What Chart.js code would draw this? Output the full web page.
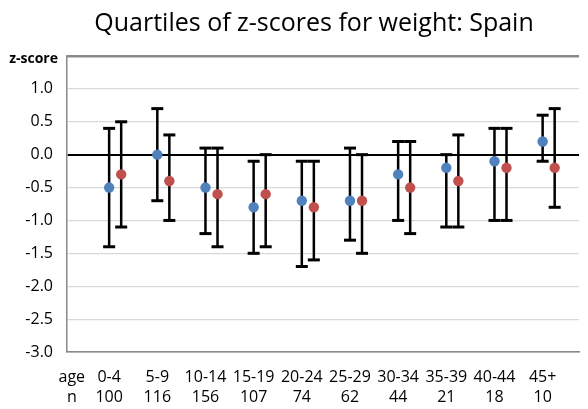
<!DOCTYPE html>
<html><head><meta charset="utf-8">
<script src="https://cdn.jsdelivr.net/npm/chart.js@4/dist/chart.umd.min.js"></script>
<style>html,body{margin:0;padding:0;background:#fff}#wrap{width:588px;height:409px}</style>
</head><body><div id="wrap"><canvas id="c" width="588" height="409"></canvas></div>
<script>
const TITLE = 'Quartiles of z-scores for weight: Spain';
const Y_LABEL = 'z-score';
const AGE_LABEL = 'age';
const N_LABEL = 'n';
const AGE_GROUPS = ['0-4','5-9','10-14','15-19','20-24','25-29','30-34','35-39','40-44','45+'];
const N_COUNTS = ['100','116','156','107','74','62','44','21','18','10'];
const BLUE_MEDIAN = [-0.5, 0.0, -0.5, -0.8, -0.7, -0.7, -0.3, -0.2, -0.1, 0.2];
const BLUE_Q1 = [-1.4, -0.7, -1.2, -1.5, -1.7, -1.3, -1.0, -1.1, -1.0, -0.1];
const BLUE_Q3 = [0.4, 0.7, 0.1, -0.1, -0.1, 0.1, 0.2, 0.0, 0.4, 0.6];
const RED_MEDIAN = [-0.3, -0.4, -0.6, -0.6, -0.8, -0.7, -0.5, -0.4, -0.2, -0.2];
const RED_Q1 = [-1.1, -1.0, -1.4, -1.4, -1.6, -1.5, -1.2, -1.1, -1.0, -0.8];
const RED_Q3 = [0.5, 0.3, 0.1, 0.0, -0.1, 0.0, 0.2, 0.3, 0.4, 0.7];
const Y_TICKS = [-3.0, -2.5, -2.0, -1.5, -1.0, -0.5, 0.0, 0.5, 1.0, 1.5];

const FONT = '"Open Sans", "DejaVu Sans", sans-serif';
const BLUE = '#4F81BD';
const RED = '#C0504D';
const OFF = 0.125;

function medianData(med, shift) {
  return med.map((v, i) => ({ x: i + 1 + shift, y: v }));
}
function whiskerData(lo, hi, shift) {
  const out = [];
  lo.forEach((v, i) => {
    out.push({ x: i + 1 + shift, y: hi[i] });
    out.push({ x: i + 1 + shift, y: v });
    out.push({ x: i + 1 + shift, y: null });
  });
  return out;
}
function whiskerSet(lo, hi, shift) {
  return {
    type: 'line', data: whiskerData(lo, hi, shift), showLine: true, spanGaps: false,
    borderColor: '#000', borderWidth: 2.5, pointStyle: 'line', pointRadius: 6,
    pointBorderColor: '#000', pointBorderWidth: 3, pointHoverRadius: 6, order: 1
  };
}
function medianSet(med, shift, color) {
  return {
    type: 'scatter', data: medianData(med, shift), pointRadius: 5.2, pointHoverRadius: 5.2,
    backgroundColor: color, borderColor: color, pointBorderWidth: 0, order: 0
  };
}

const textPlugin = {
  id: 'ctext',
  afterDraw(chart) {
    const ctx = chart.ctx;
    const a = chart.chartArea;
    ctx.save();
    ctx.fillStyle = '#000';
    ctx.font = '25px ' + FONT;
    ctx.textAlign = 'center';
    ctx.textBaseline = 'middle';
    ctx.fillText(TITLE, 314, 24);
    ctx.font = 'bold 14px ' + FONT;
    ctx.textAlign = 'right';
    ctx.fillText(Y_LABEL, a.left - 9, a.top + 3);
    ctx.strokeStyle = '#898989';
    ctx.lineWidth = 1.5;
    ctx.beginPath();
    ctx.moveTo(a.left, a.top + 0.75);
    ctx.lineTo(a.right, a.top + 0.75);
    ctx.stroke();
    ctx.restore();
  }
};

function make() {
  new Chart(document.getElementById('c'), {
    type: 'scatter',
    data: {
      datasets: [
        medianSet(BLUE_MEDIAN, -OFF, BLUE),
        medianSet(RED_MEDIAN, OFF, RED),
        whiskerSet(BLUE_Q1, BLUE_Q3, -OFF),
        whiskerSet(RED_Q1, RED_Q3, OFF)
      ]
    },
    options: {
      responsive: false, animation: false,
      layout: { padding: { top: 56, left: 0, right: 0, bottom: 0 } },
      plugins: { legend: { display: false }, tooltip: { enabled: false }, title: { display: false } },
      events: [],
      scales: {
        x: {
          type: 'linear', min: 0, max: 10.63,
          afterBuildTicks: s => { s.ticks = [0.1].concat(AGE_GROUPS.map((_, i) => i + 1 - OFF)).map(v => ({ value: v })); },
          afterFit: s => { s.height = 57; },
          ticks: {
            autoSkip: false, maxRotation: 0, minRotation: 0, padding: 15, color: '#000',
            font: { family: FONT, size: 16, lineHeight: 1.25 },
            callback: (v, i) => i === 0 ? [AGE_LABEL, N_LABEL] : [AGE_GROUPS[i - 1], N_COUNTS[i - 1]]
          },
          grid: { display: false, drawTicks: false },
          border: { display: true, color: '#898989', width: 1.5 }
        },
        y: {
          min: -3, max: 1.5,
          afterBuildTicks: s => { s.ticks = Y_TICKS.map(v => ({ value: v })); },
          afterFit: s => { s.width = 67; },
          ticks: {
            padding: 14, color: '#000',
            font: { family: FONT, size: 16 },
            callback: v => Math.abs(v - 1.5) < 1e-9 ? '' : v.toFixed(1)
          },
          grid: {
            drawTicks: false,
            color: ctx => {
              const v = ctx.tick ? ctx.tick.value : null;
              if (v === 0) return '#000';
              if (v === 1.5 || v === -3) return '#898989';
              return '#D9D9D9';
            },
            lineWidth: ctx => {
              const v = ctx.tick ? ctx.tick.value : null;
              if (v === 0) return 2;
              if (v === 1.5) return 1.5;
              return 1.2;
            }
          },
          border: { display: true, color: '#898989', width: 1.5 }
        }
      }
    },
    plugins: [textPlugin]
  });
}
if (document.fonts && document.fonts.load) {
  Promise.all([document.fonts.load('16px "Open Sans"'), document.fonts.load('bold 14px "Open Sans"')]).then(make, make);
} else { make(); }
</script></body></html>
